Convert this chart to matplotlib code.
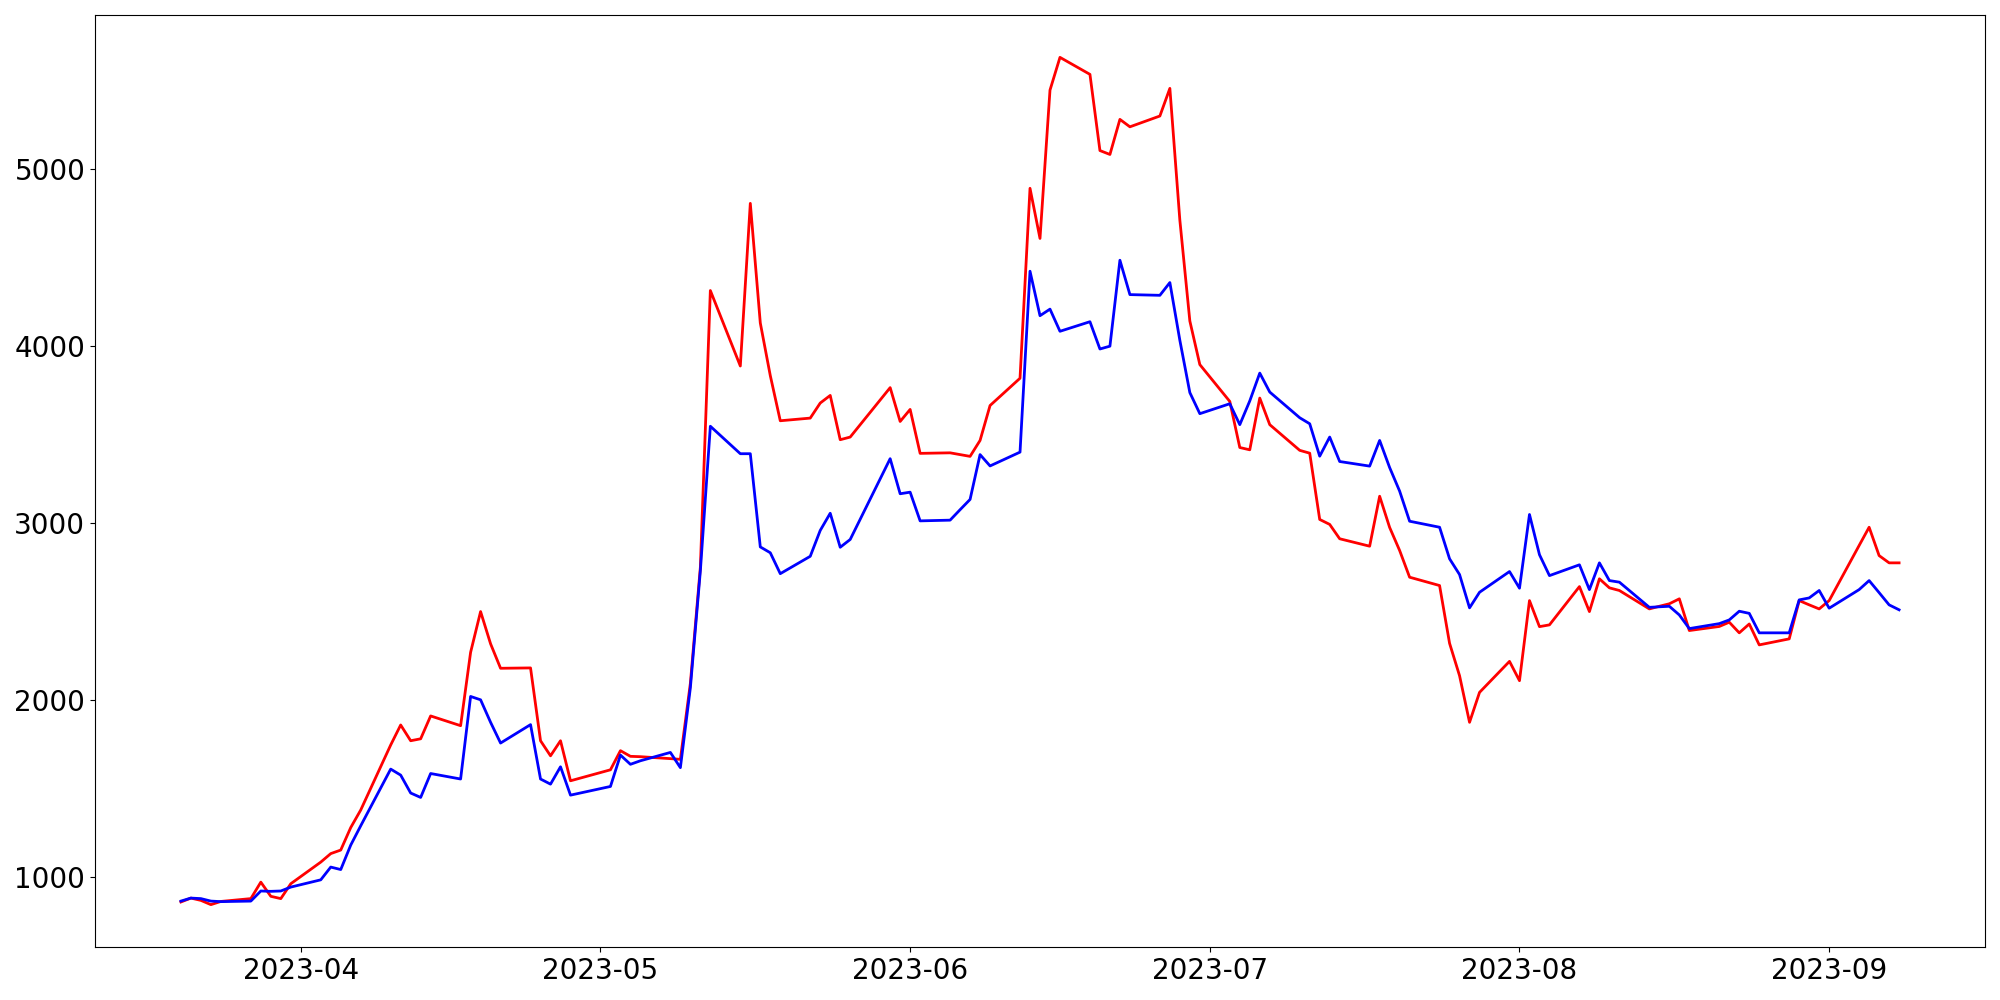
import matplotlib
matplotlib.use("Agg")
import matplotlib.pyplot as plt
import pandas as pd

dates = [
    "2023-03-20", "2023-03-21", "2023-03-22", "2023-03-23", "2023-03-24",
    "2023-03-27", "2023-03-28", "2023-03-29", "2023-03-30", "2023-03-31",
    "2023-04-03", "2023-04-04", "2023-04-05", "2023-04-06", "2023-04-07",
    "2023-04-10", "2023-04-11", "2023-04-12", "2023-04-13", "2023-04-14",
    "2023-04-17", "2023-04-18", "2023-04-19", "2023-04-20", "2023-04-21",
    "2023-04-24", "2023-04-25", "2023-04-26", "2023-04-27", "2023-04-28",
    "2023-05-02", "2023-05-03", "2023-05-04", "2023-05-05",
    "2023-05-08", "2023-05-09", "2023-05-10", "2023-05-11", "2023-05-12",
    "2023-05-15", "2023-05-16", "2023-05-17", "2023-05-18", "2023-05-19",
    "2023-05-22", "2023-05-23", "2023-05-24", "2023-05-25", "2023-05-26",
    "2023-05-30", "2023-05-31", "2023-06-01", "2023-06-02",
    "2023-06-05", "2023-06-06", "2023-06-07", "2023-06-08", "2023-06-09",
    "2023-06-12", "2023-06-13", "2023-06-14", "2023-06-15", "2023-06-16",
    "2023-06-19", "2023-06-20", "2023-06-21", "2023-06-22", "2023-06-23",
    "2023-06-26", "2023-06-27", "2023-06-28", "2023-06-29", "2023-06-30",
    "2023-07-03", "2023-07-04", "2023-07-05", "2023-07-06", "2023-07-07",
    "2023-07-10", "2023-07-11", "2023-07-12", "2023-07-13", "2023-07-14",
    "2023-07-17", "2023-07-18", "2023-07-19", "2023-07-20", "2023-07-21",
    "2023-07-24", "2023-07-25", "2023-07-26", "2023-07-27", "2023-07-28",
    "2023-07-31", "2023-08-01", "2023-08-02", "2023-08-03", "2023-08-04",
    "2023-08-07", "2023-08-08", "2023-08-09", "2023-08-10", "2023-08-11",
    "2023-08-14", "2023-08-15", "2023-08-16", "2023-08-17", "2023-08-18",
    "2023-08-21", "2023-08-22", "2023-08-23", "2023-08-24", "2023-08-25",
    "2023-08-28", "2023-08-29", "2023-08-30", "2023-08-31", "2023-09-01",
    "2023-09-04", "2023-09-05", "2023-09-06", "2023-09-07", "2023-09-08",
]

red_values = [
    861, 883, 870, 846, 864,
    880, 973, 893, 880, 964,
    1086, 1134, 1154, 1281, 1380,
    1747, 1860, 1771, 1782, 1911,
    1856, 2270, 2500, 2318, 2180,
    2182, 1771, 1686, 1771, 1545,
    1607, 1715, 1683, 1681,
    1670, 1666, 2095, 2750, 4312,
    3886, 4804, 4129, 3832, 3577,
    3592, 3677, 3720, 3470, 3485,
    3764, 3573, 3641, 3393,
    3396, 3386, 3376, 3466, 3663,
    3817, 4889, 4606, 5443, 5628,
    5532, 5102, 5080, 5278, 5236,
    5297, 5453, 4709, 4140, 3894,
    3686, 3426, 3413, 3705, 3555,
    3410, 3394, 3020, 2992, 2911,
    2869, 3151, 2975, 2845, 2694,
    2647, 2321, 2138, 1875, 2044,
    2219, 2110, 2562, 2415, 2425,
    2641, 2500, 2685, 2634, 2619,
    2515, 2530, 2544, 2572, 2393,
    2416, 2440, 2380, 2430, 2312,
    2346, 2562, 2538, 2515, 2562,
    2873, 2976, 2816, 2775, 2775,
]

blue_values = [
    866, 883, 880, 866, 863,
    866, 923, 921, 923, 945,
    986, 1058, 1044, 1182, 1291,
    1611, 1577, 1476, 1451, 1586,
    1555, 2021, 2002, 1875, 1758,
    1862, 1555, 1526, 1624, 1464,
    1513, 1690, 1638, 1658,
    1705, 1619, 2070, 2730, 3546,
    3391, 3391, 2865, 2832, 2714,
    2812, 2958, 3055, 2863, 2907,
    3363, 3165, 3174, 3012,
    3016, 3075, 3133, 3386, 3322,
    3400, 4421, 4170, 4207, 4082,
    4136, 3982, 3998, 4483, 4289,
    4285, 4357, 4031, 3736, 3617,
    3673, 3555, 3689, 3846, 3739,
    3594, 3560, 3377, 3485, 3347,
    3321, 3466, 3313, 3180, 3010,
    2976, 2798, 2709, 2521, 2609,
    2726, 2632, 3048, 2821, 2703,
    2764, 2624, 2775, 2675, 2666,
    2524, 2527, 2530, 2481, 2404,
    2432, 2453, 2502, 2490, 2380,
    2380, 2566, 2577, 2619, 2519,
    2624, 2675, 2607, 2538, 2510,
]

x = pd.to_datetime(dates)

fig, ax = plt.subplots(figsize=(20, 10), dpi=100)
fig.subplots_adjust(left=0.0475, right=0.9925, top=0.985, bottom=0.053)

ax.plot(x, red_values, color="red", linewidth=2)
ax.plot(x, blue_values, color="blue", linewidth=2)

ax.tick_params(axis="both", labelsize=20)

fig.savefig("out.png", dpi=100)
